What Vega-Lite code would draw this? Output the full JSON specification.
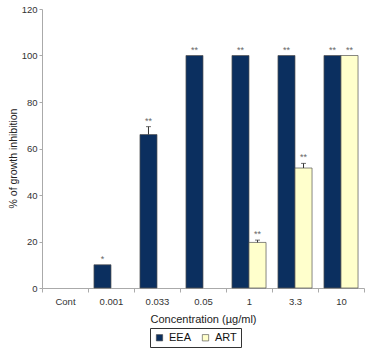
{
  "$schema": "https://vega.github.io/schema/vega-lite/v6.json",
  "width": 322,
  "height": 279,
  "autosize": {"type": "none"},
  "padding": {"left": 42, "top": 9, "right": 4, "bottom": 60},
  "config": {
    "font": "Liberation Sans",
    "view": {"stroke": null},
    "axis": {"labelColor": "#333", "titleColor": "#222", "domainColor": "#aaa", "tickColor": "#aaa", "labelFontSize": 9.5, "titleFontSize": 11, "titleFontWeight": "normal", "grid": false, "tickSize": 4}
  },
  "data": {
    "values": [
      {"conc": "0.001", "series": "EEA", "value": 10, "err": 0, "sig": "*"},
      {"conc": "0.033", "series": "EEA", "value": 66, "err": 3.4, "sig": "**"},
      {"conc": "0.05", "series": "EEA", "value": 100, "err": 0, "sig": "**"},
      {"conc": "1", "series": "EEA", "value": 100, "err": 0, "sig": "**"},
      {"conc": "1", "series": "ART", "value": 19.6, "err": 1.0, "sig": "**"},
      {"conc": "3.3", "series": "EEA", "value": 100, "err": 0, "sig": "**"},
      {"conc": "3.3", "series": "ART", "value": 51.6, "err": 2.0, "sig": "**"},
      {"conc": "10", "series": "EEA", "value": 100, "err": 0, "sig": "**"},
      {"conc": "10", "series": "ART", "value": 100, "err": 0, "sig": "**"}
    ]
  },
  "transform": [{"calculate": "datum.value + datum.err", "as": "top"}],
  "encoding": {
    "x": {
      "field": "conc", "type": "nominal",
      "scale": {"domain": ["Cont", "0.001", "0.033", "0.05", "1", "3.3", "10"], "paddingInner": 0, "paddingOuter": 0},
      "axis": {"title": "Concentration (\u00b5g/ml)", "labelAngle": 0, "tickBand": "extent", "labelPadding": 4, "titlePadding": 8}
    },
    "xOffset": {"field": "series", "type": "nominal", "scale": {"domain": ["EEA", "ART"], "paddingInner": 0, "paddingOuter": 0.35}}
  },
  "layer": [
    {
      "mark": {"type": "bar", "stroke": "#555", "strokeWidth": 0.7},
      "encoding": {
        "y": {"field": "value", "type": "quantitative", "scale": {"domain": [0, 120]},
          "axis": {"title": "% of growth inhibition", "values": [0, 20, 40, 60, 80, 100, 120], "titlePadding": 3, "labelPadding": 2, "tickSize": 3, "titleFontSize": 10.5, "titleY": 149}},
        "color": {"field": "series", "type": "nominal",
          "scale": {"domain": ["EEA", "ART"], "range": ["#0b2f5f", "#ffffcc"]},
          "legend": {"title": null, "orient": "none", "direction": "horizontal", "legendX": 108, "legendY": 319,
            "strokeColor": "#333", "padding": 4, "symbolType": "square", "symbolSize": 40,
            "symbolStrokeColor": "#444", "symbolStrokeWidth": 0.6, "labelFontSize": 11, "labelColor": "#111",
            "columnPadding": 8, "labelOffset": 4}}
      }
    },
    {
      "transform": [{"filter": "datum.err > 0"}],
      "mark": {"type": "rule", "color": "#333", "strokeWidth": 1},
      "encoding": {
        "y": {"field": "value", "type": "quantitative"},
        "y2": {"field": "top"}
      }
    },
    {
      "transform": [{"filter": "datum.err > 0"}],
      "mark": {"type": "tick", "color": "#333", "size": 5, "thickness": 1, "orient": "horizontal"},
      "encoding": {
        "y": {"field": "top", "type": "quantitative"}
      }
    },
    {
      "mark": {"type": "text", "dy": -6, "fontSize": 9, "color": "#666"},
      "encoding": {
        "y": {"field": "top", "type": "quantitative"},
        "text": {"field": "sig"}
      }
    }
  ]
}
